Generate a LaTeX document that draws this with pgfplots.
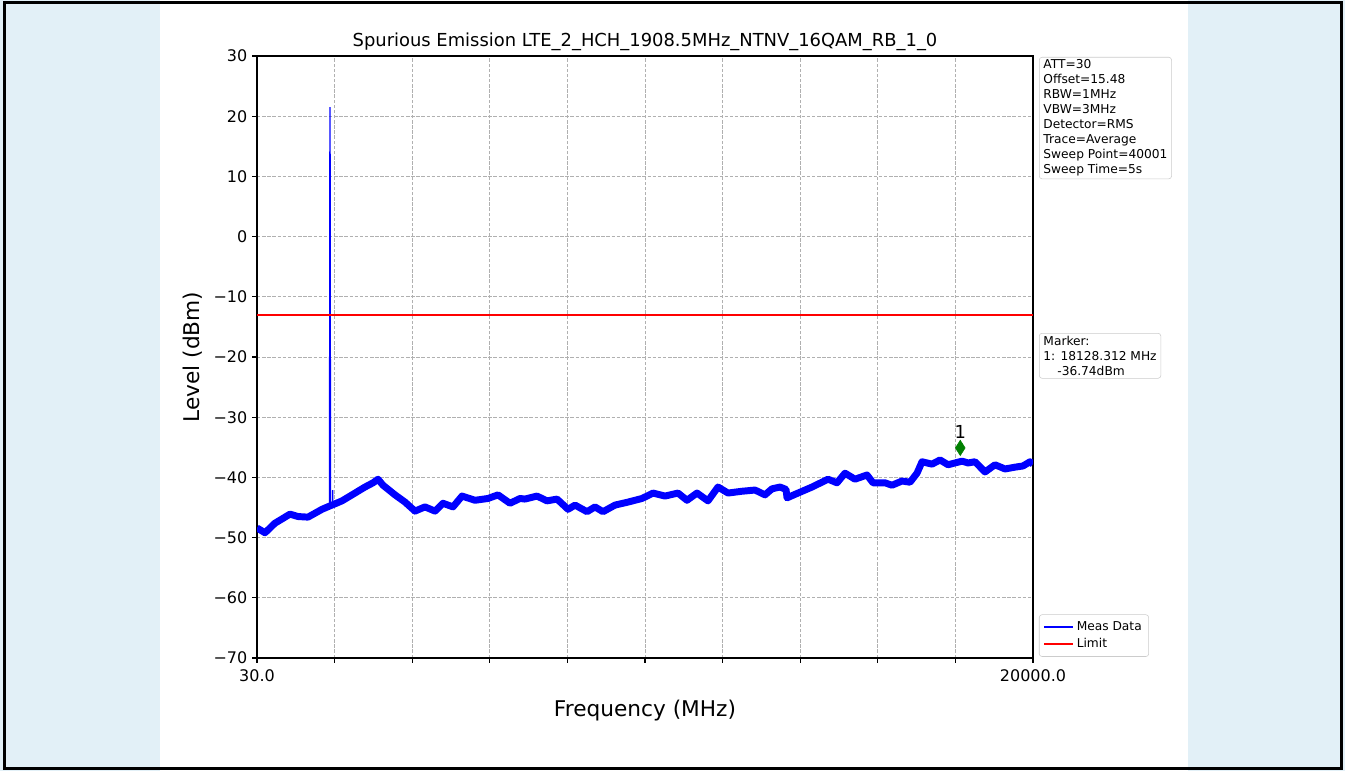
\documentclass[border=0pt]{standalone}
\usepackage{fontspec}
\setmainfont{DejaVu Sans}
\usepackage{pgfplots}
\pgfplotsset{compat=1.18}

\definecolor{bgblue}{RGB}{226,240,247}
\definecolor{mgreen}{RGB}{0,128,0}
\definecolor{boxgray}{RGB}{204,204,204}
\definecolor{gridgray}{RGB}{176,176,176}

\begin{document}
\begin{tikzpicture}
% page background: 1 px = 0.72pt
\fill[bgblue] (0,0) rectangle (968.4pt,555.12pt);
\fill[white] (115.2pt,0) rectangle (855.36pt,555.12pt);

\begin{axis}[
    at={(185.04pt,81.36pt)}, anchor=south west,
    scale only axis,
    width=558.72pt, height=433.44pt,
    xmin=30, xmax=20000, ymin=-70, ymax=30,
    scaled x ticks=false,
    xtick={30,2027,4024,6021,8018,10015,12012,14009,16006,18003,20000},
    xticklabels={30.0,,,,,,,,,,20000.0},
    ytick={-70,-60,...,30},
    yticklabels={−70,−60,−50,−40,−30,−20,−10,0,10,20,30},
    xtick pos=bottom, ytick pos=left,
    grid=major,
    grid style={dash pattern=on 2.5pt off 1.2pt, gridgray, line width=0.5pt},
    tick align=outside, major tick length=3.5pt,
    every tick/.style={black, line width=0.8pt},
    axis line style={line width=0.8pt},
    tick label style={font=\fontsize{11.5}{13}\selectfont},
    xticklabel style={yshift=-1pt},
    xlabel={Frequency (MHz)}, ylabel={Level (dBm)},
    label style={font=\fontsize{15.6}{18}\selectfont},
    xlabel shift=7pt, ylabel shift=1.5pt,
    title={Spurious Emission LTE\_2\_HCH\_1908.5MHz\_NTNV\_16QAM\_RB\_1\_0},
    title style={font=\fontsize{12.9}{15}\selectfont, yshift=-5.5pt},
    legend cell align=left,
    legend image code/.code={\draw[#1] (0pt,0pt) -- (21pt,0pt);},
    legend style={at={(1.0077,0.002)}, anchor=south west, draw=boxgray,
        rounded corners=2pt, font=\fontsize{8.8}{10.8}\selectfont,
        row sep=0pt, inner xsep=3pt, inner ysep=3pt},
]
% measured trace
\addplot[blue, line width=5pt, line join=round, forget plot] coordinates {
(30,-48.4) (236,-49.2) (493,-47.6) (700,-46.8) (879,-46.1) (1085,-46.5)
(1342,-46.6) (1703,-45.3) (1883,-44.8) (1960,-44.6) (2217,-43.9) (2552,-42.6)
(2809,-41.6) (3015,-40.9) (3144,-40.3) (3273,-41.3) (3581,-42.9) (3839,-44.1)
(4096,-45.6) (4353,-44.9) (4611,-45.6) (4817,-44.3) (5074,-44.9) (5306,-43.1)
(5640,-43.8) (5975,-43.5) (6232,-42.9) (6541,-44.3) (6798,-43.5) (6927,-43.6)
(7236,-43.1) (7493,-43.9) (7751,-43.6) (8034,-45.3) (8214,-44.6) (8523,-45.7)
(8728,-44.9) (8934,-45.7) (9243,-44.6) (9578,-44.1) (9938,-43.5) (10221,-42.6)
(10530,-43.1) (10864,-42.6) (11096,-43.8) (11353,-42.6) (11636,-43.9) (11893,-41.6)
(12151,-42.6) (12511,-42.3) (12846,-42.1) (13103,-42.9) (13283,-41.9) (13489,-41.6)
(13644,-42.0) (13670,-43.4) (13953,-42.6) (14313,-41.6) (14725,-40.3) (14956,-40.9)
(15162,-39.3) (15419,-40.3) (15728,-39.6) (15883,-40.9) (16192,-40.9) (16372,-41.3)
(16629,-40.6) (16835,-40.8) (17015,-39.3) (17144,-37.4) (17401,-37.8) (17607,-37.1)
(17813,-37.9) (18173,-37.3) (18328,-37.6) (18508,-37.4) (18765,-39.1) (19022,-37.9)
(19280,-38.6) (19537,-38.3) (19743,-38.1) (19923,-37.4) (20000,-37.8)
};
% carrier spike
\addplot[blue, line width=1pt, forget plot] coordinates {
(1896,-44.7) (1908.5,21.5) (1921,-44.7)
};
\addplot[blue, line width=1pt, forget plot] coordinates {
(1975,-44.6) (1978,-42.1) (1981,-44.6)
};
% limit
\addplot[red, line width=1pt, forget plot] coordinates {(30,-13) (20000,-13)};
% marker
\addplot[only marks, mark=diamond*, mgreen, mark size=5.5pt,
    mark options={xscale=0.85}, forget plot] coordinates {(18128.312,-35.1)};
\node[font=\fontsize{12.9}{15}\selectfont] at (axis cs:18128.312,-32.5) {1};
\addlegendimage{blue, line width=1pt}
\addlegendentry{Meas Data}
\addlegendimage{red, line width=1pt}
\addlegendentry{Limit}
\end{axis}

% text boxes at the right
\node[anchor=north west, draw=boxgray, fill=white, rounded corners=2pt,
      align=left, inner xsep=3pt, inner ysep=1.8pt, font=\fontsize{8.8}{10.8}\selectfont]
  at (748.08pt,514.08pt)
  {ATT=30\\Offset=15.48\\RBW=1MHz\\VBW=3MHz\\Detector=RMS\\Trace=Average\\Sweep Point=40001\\Sweep Time=5s};
\node[anchor=north west, draw=boxgray, fill=white, rounded corners=2pt,
      align=left, inner xsep=3pt, inner ysep=2pt, font=\fontsize{8.8}{10.8}\selectfont]
  at (748.08pt,315.36pt)
  {Marker:\\1: 18128.312 MHz\\\hspace*{10pt}-36.74dBm};

% frame
\draw[black, line width=2.2pt] (3.2pt,2pt) rectangle (966pt,553.5pt);
\end{tikzpicture}
\end{document}
